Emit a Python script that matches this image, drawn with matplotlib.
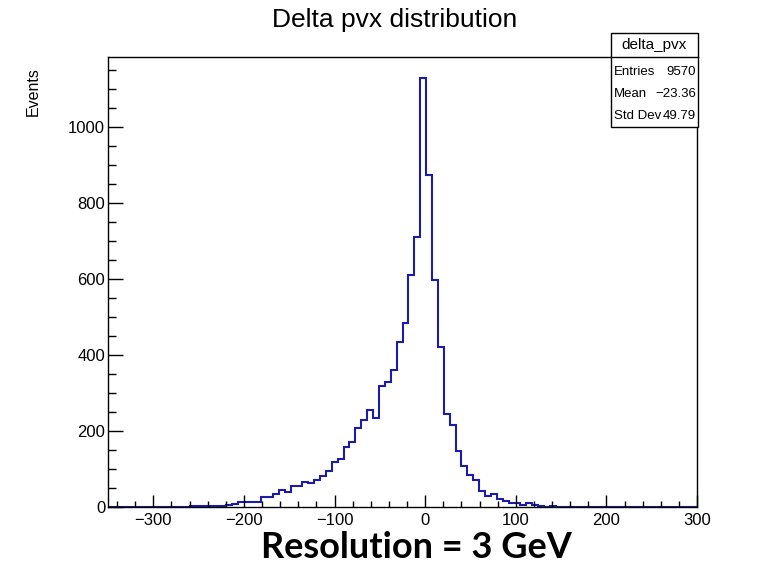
import numpy as np
import matplotlib.pyplot as plt
from matplotlib.patches import Rectangle
from matplotlib.ticker import MultipleLocator

# histogram settings: 100 bins from -350 to 300
x_low, x_high, n_bins = -350, 300, 100

# bin contents (bins 0..99)
counts = [0] * 14 + [
    3, 2, 3, 3, 2, 3, 5, 8, 12, 12,            # 14-23
    12, 12, 25, 25, 35, 45, 40, 54, 54, 67,    # 24-33
    62, 72, 81, 95, 118, 127, 158, 171, 208, 228,   # 34-43
    254, 235, 317, 329, 361, 434, 484, 610, 710, 1127,  # 44-53
    874, 597, 421, 244, 216, 148, 108, 84, 70, 42,  # 54-63
    29, 35, 20, 16, 11, 11, 6, 11, 6, 2,        # 64-73
    1, 2, 1, 0, 1, 1, 1, 0, 1, 0,               # 74-83
    0, 0, 0, 0, 1, 0, 0, 0, 0, 0,               # 84-93
    0, 0, 1, 0, 0, 0,                           # 94-99
]

hist_name = "delta_pvx"
stat_names = ["Entries", "Mean", "Std Dev"]
stat_values = ["9570", "\u221223.36", "49.79"]

W, H = 758, 578
def fx(x):
    return x / W
def fy(y):
    return 1 - y / H

fig = plt.figure(figsize=(W / 100, H / 100), dpi=100)
ax = fig.add_axes([fx(108), fy(507), fx(697) - fx(108), fy(57) - fy(507)])

edges = np.linspace(x_low, x_high, n_bins + 1)
ax.stairs(counts, edges, color="#1c1caa", linewidth=1.5, baseline=0)

ax.set_xlim(x_low, x_high)
ax.set_ylim(0, max(counts) * 1.05)

ax.xaxis.set_major_locator(MultipleLocator(100))
ax.xaxis.set_minor_locator(MultipleLocator(20))
ax.yaxis.set_major_locator(MultipleLocator(200))
ax.yaxis.set_minor_locator(MultipleLocator(50))
ax.tick_params(which="both", direction="in", top=False, right=False,
               labelsize=12, width=1, color="black")
ax.tick_params(axis="x", which="major", length=9, pad=4)
ax.tick_params(axis="x", which="minor", length=4.5)
ax.tick_params(axis="y", which="major", length=11, pad=2)
ax.tick_params(axis="y", which="minor", length=5.5)
ax.xaxis.set_major_formatter(lambda v, p: f"{v:.0f}".replace("-", "\u2212"))
for s in ax.spines.values():
    s.set_linewidth(1)

fontname = ["Liberation Sans", "DejaVu Sans"]
for lab in ax.get_xticklabels() + ax.get_yticklabels():
    lab.set_family(fontname)

fig.text(fx(395), fy(20), "Delta pvx distribution", ha="center", va="center",
         fontsize=19, family=fontname)
fig.text(fx(33), fy(92), "Events", rotation=90, ha="center", va="center",
         fontsize=11.5, family=fontname)
fig.text(fx(416), fy(548), "Resolution = 3 GeV", ha="center", va="center",
         fontsize=26, fontweight="bold", family=["Lato", "DejaVu Sans"])

# stats box
bx0, bx1, by0, by1, hy = 611, 698, 33, 127, 57
fig.add_artist(Rectangle((fx(bx0), fy(by1)), fx(bx1) - fx(bx0), fy(by0) - fy(by1),
                         transform=fig.transFigure, facecolor="white",
                         edgecolor="black", linewidth=1, zorder=5))
fig.add_artist(plt.Line2D([fx(bx0), fx(bx1)], [fy(hy), fy(hy)],
                          transform=fig.transFigure, color="black", linewidth=1, zorder=6))
fig.text(fx((bx0 + bx1) / 2), fy(45), hist_name, ha="center", va="center",
         fontsize=11, family=fontname, zorder=7)
for i, (n, v) in enumerate(zip(stat_names, stat_values)):
    y = fy(72 + 22 * i)
    fig.text(fx(614), y, n, ha="left", va="center", fontsize=9.5, family=fontname, zorder=7)
    fig.text(fx(696), y, v, ha="right", va="center", fontsize=9.5, family=fontname, zorder=7)

fig.savefig("out.png", dpi=100)
